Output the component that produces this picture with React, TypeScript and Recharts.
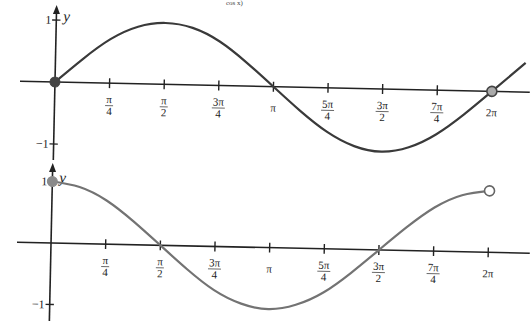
import React from "react";
import { LineChart, Line, XAxis, YAxis, ReferenceLine, ReferenceDot } from "recharts";

// sample positions in radians, steps of pi/8 (the last sine point runs past 2pi)
const sineX = [0, 0.393, 0.785, 1.178, 1.571, 1.963, 2.356, 2.749, 3.142, 3.534, 3.927, 4.32, 4.712, 5.105, 5.498, 5.89, 6.283, 6.76];
const sineY = [0, 0.38, 0.71, 0.92, 0.99, 0.92, 0.71, 0.38, 0, -0.38, -0.71, -0.93, -1.01, -0.93, -0.71, -0.38, 0, 0.47];
const cosX = [0, 0.393, 0.785, 1.178, 1.571, 1.963, 2.356, 2.749, 3.142, 3.534, 3.927, 4.32, 4.712, 5.105, 5.498, 5.89, 6.283];
const cosY = [1, 0.92, 0.71, 0.38, 0, -0.38, -0.71, -0.92, -1, -0.92, -0.71, -0.38, 0, 0.38, 0.71, 0.92, 1];

const tickValues = [0.785, 1.571, 2.356, 3.142, 3.927, 4.712, 5.498, 6.283];
const tickNumerators = ["π", "π", "3π", "π", "5π", "3π", "7π", "2π"];
const tickDenominators = ["4", "2", "4", "", "4", "2", "4", ""];
const yTickValues = [1, -1];
const yTickLabels = ["1", "−1"];

const serif = '"Liberation Serif", "DejaVu Serif", serif';
const axisColor = "#222";

const FracLabel = (props: any) => {
  const { viewBox, num, den } = props;
  if (!viewBox) return null;
  const cx = viewBox.x + (viewBox.width || 0) / 2;
  const cy = viewBox.y + (viewBox.height || 0) / 2;
  const textProps = { textAnchor: "middle" as const, fontFamily: serif, fontSize: 11, fill: "#222" };
  if (!den) {
    return (
      <text x={cx} y={cy + 25} {...textProps}>
        {num}
      </text>
    );
  }
  const half = num.length > 1 ? 6.5 : 4;
  return (
    <g>
      <text x={cx} y={cy + 20} {...textProps}>
        {num}
      </text>
      <line x1={cx - half} x2={cx + half} y1={cy + 22.5} y2={cy + 22.5} stroke="#444" strokeWidth={0.8} />
      <text x={cx} y={cy + 32} {...textProps}>
        {den}
      </text>
    </g>
  );
};

const YTickLabel = (props: any) => {
  const { viewBox, text, showY, dx } = props;
  if (!viewBox) return null;
  const cx = viewBox.x + (viewBox.width || 0) / 2;
  const cy = viewBox.y + (viewBox.height || 0) / 2;
  return (
    <g fontFamily={serif} fill="#222">
      <text x={cx - dx} y={cy + 4} textAnchor="end" fontSize={12}>
        {text}
      </text>
      {showY && (
        <text x={cx + 7} y={cy + 1} fontSize={15} fontStyle="italic">
          y
        </text>
      )}
    </g>
  );
};

const ArrowAxis = (props: any) => {
  const { x1, y1, y2 } = props;
  const top = Math.min(y1, y2);
  const bottom = Math.max(y1, y2);
  return (
    <g>
      <line x1={x1} x2={x1} y1={top + 4} y2={bottom} stroke={axisColor} strokeWidth={1.6} />
      <path d={`M${x1},${top} L${x1 - 3.5},${top + 9} L${x1 + 3.5},${top + 9} Z`} fill={axisColor} />
    </g>
  );
};

interface PanelProps {
  xs: number[];
  ys: number[];
  color: string;
  top: number;
  height: number;
  margin: { top: number; right: number; bottom: number; left: number };
  xDomain: [number, number];
  yDomain: [number, number];
  origin: [number, number];
  yLabelGap: number;
  startDot: { fill: string; stroke: string };
  endDot: { fill: string; stroke: string };
  endIndex: number;
}

const Panel: React.FC<PanelProps> = (p) => {
  const data = p.xs.map((x, i) => ({ x, y: p.ys[i] }));
  const tickH = 0.08;
  const tickW = 0.06;
  return (
    <div
      style={{
        position: "absolute",
        left: 0,
        top: p.top,
        width: 530,
        height: p.height,
        transform: "rotate(1.23deg)",
        transformOrigin: `${p.origin[0]}px ${p.origin[1]}px`,
      }}
    >
      <LineChart width={530} height={p.height} data={data} margin={p.margin}>
        <XAxis type="number" dataKey="x" domain={p.xDomain} allowDataOverflow hide />
        <YAxis type="number" domain={p.yDomain} allowDataOverflow hide />
        <ReferenceLine y={0} stroke={axisColor} strokeWidth={1.6} />
        <ReferenceLine x={0} shape={<ArrowAxis />} />
        {tickValues.map((v, i) => (
          <ReferenceLine
            key={`xt${i}`}
            segment={[
              { x: v, y: -tickH },
              { x: v, y: tickH },
            ]}
            stroke={axisColor}
            strokeWidth={1.4}
            label={<FracLabel num={tickNumerators[i]} den={tickDenominators[i]} />}
          />
        ))}
        {yTickValues.map((v, i) => (
          <ReferenceLine
            key={`yt${i}`}
            segment={[
              { x: -tickW, y: v },
              { x: tickW, y: v },
            ]}
            stroke={axisColor}
            strokeWidth={1.4}
            label={<YTickLabel text={yTickLabels[i]} showY={v === 1} dx={p.yLabelGap} />}
          />
        ))}
        <Line
          type="natural"
          dataKey="y"
          stroke={p.color}
          strokeWidth={2.2}
          dot={false}
          isAnimationActive={false}
        />
        <ReferenceDot
          x={p.xs[0]}
          y={p.ys[0]}
          r={5}
          fill={p.startDot.fill}
          stroke={p.startDot.stroke}
          strokeWidth={1}
        />
        <ReferenceDot
          x={p.xs[p.endIndex]}
          y={p.ys[p.endIndex]}
          r={5}
          fill={p.endDot.fill}
          stroke={p.endDot.stroke}
          strokeWidth={1.6}
        />
      </LineChart>
    </div>
  );
};

export default function App() {
  return (
    <div
      style={{
        position: "absolute",
        left: 0,
        top: 0,
        width: 530,
        height: 321,
        overflow: "hidden",
        background: "#fff",
      }}
    >
      <div
        style={{
          position: "absolute",
          left: 226,
          top: 0,
          fontFamily: serif,
          fontSize: 7,
          lineHeight: 1,
          color: "#444",
        }}
      >
        cos x)
      </div>
      <Panel
        xs={sineX}
        ys={sineY}
        color="#3a3a3a"
        top={0}
        height={165}
        margin={{ top: 5, right: 0, bottom: 5, left: 20 }}
        xDomain={[-0.503, 6.83]}
        yDomain={[-1.258, 1.242]}
        origin={[55, 82]}
        yLabelGap={5}
        startDot={{ fill: "#444", stroke: "#444" }}
        endDot={{ fill: "#aaa", stroke: "#444" }}
        endIndex={16}
      />
      <Panel
        xs={cosX}
        ys={cosY}
        color="#737373"
        top={160}
        height={168}
        margin={{ top: 3, right: 0, bottom: 2, left: 17 }}
        xDomain={[-0.489, 6.882]}
        yDomain={[-1.35, 1.3]}
        origin={[51, 83]}
        yLabelGap={5}
        startDot={{ fill: "#8a8a8a", stroke: "#8a8a8a" }}
        endDot={{ fill: "#fff", stroke: "#666" }}
        endIndex={16}
      />
    </div>
  );
}
